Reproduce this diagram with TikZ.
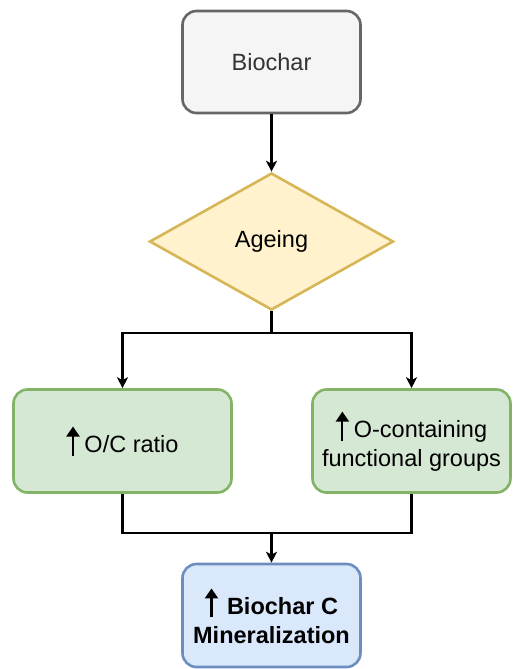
\documentclass[tikz,border=0pt]{standalone}
\usepackage{fontspec}
\setmainfont{Liberation Sans}
\usetikzlibrary{shapes.geometric,arrows.meta}
\definecolor{grayfill}{HTML}{F5F5F5}
\definecolor{graydraw}{HTML}{666666}
\definecolor{grayText}{HTML}{333333}
\definecolor{yellowfill}{HTML}{FFF2CC}
\definecolor{yellowdraw}{HTML}{D6B656}
\definecolor{greenfill}{HTML}{D5E8D4}
\definecolor{greendraw}{HTML}{82B366}
\definecolor{bluefill}{HTML}{DAE8FC}
\definecolor{bluedraw}{HTML}{6C8EBF}
\newcommand{\upmark}{\tikz[baseline=0pt,x=1pt,y=1pt]\draw[line width=2.2pt,-{Triangle[width=13pt,length=10pt]}] (0pt,-3pt) -- (0pt,26pt);}
\begin{document}
\begin{tikzpicture}[x=1pt,y=-1pt,
  boxbase/.style={draw, rounded corners=14pt, line width=2.6pt, inner sep=0pt, align=center,
    font=\fontsize{23.5}{29}\selectfont},
  graybox/.style={boxbase, fill=grayfill, draw=graydraw, text=grayText},
  greenbox/.style={boxbase, fill=greenfill, draw=greendraw},
  bluebox/.style={boxbase, fill=bluefill, draw=bluedraw},
  decision/.style={diamond, draw=yellowdraw, fill=yellowfill, line width=2.6pt, inner sep=0pt,
    font=\fontsize{23.5}{29}\selectfont},
  conn/.style={line width=2.5pt, -{Stealth[length=11pt,width=11pt,inset=3pt]}},
  plain/.style={line width=2.5pt}
]
\useasboundingbox (0,0) rectangle (513,669);

\node[graybox, minimum width=178pt, minimum height=102pt] (bio) at (271.5,62) {Biochar};
\node[decision, minimum width=244pt, minimum height=137pt] (age) at (271.5,241.5) {Ageing};
\node[greenbox, minimum width=218pt, minimum height=103pt] (oc) at (122.5,441) {\upmark\hspace{5pt}O/C ratio};
\node[greenbox, minimum width=198pt, minimum height=103pt] (ocg) at (411.5,441) {\upmark\hspace{5pt}O-containing\\functional groups};
\node[bluebox, minimum width=178pt, minimum height=103pt] (min) at (271.5,615.5) {\upmark\hspace{9pt}\textbf{Biochar C}\\\textbf{Mineralization}};

\coordinate (s1) at (271.5,333);
\coordinate (s2) at (271.5,533);

\draw[conn] (bio) -- (age);
\draw[plain] (age.south) -- (s1);
\draw[conn] (s1) -| (oc.north);
\draw[conn] (s1) -| (ocg.north);
\draw[plain] (oc.south) |- (ocg.south |- s2) -- (ocg.south);
\draw[conn] (s2) -- (min.north);
\end{tikzpicture}
\end{document}
